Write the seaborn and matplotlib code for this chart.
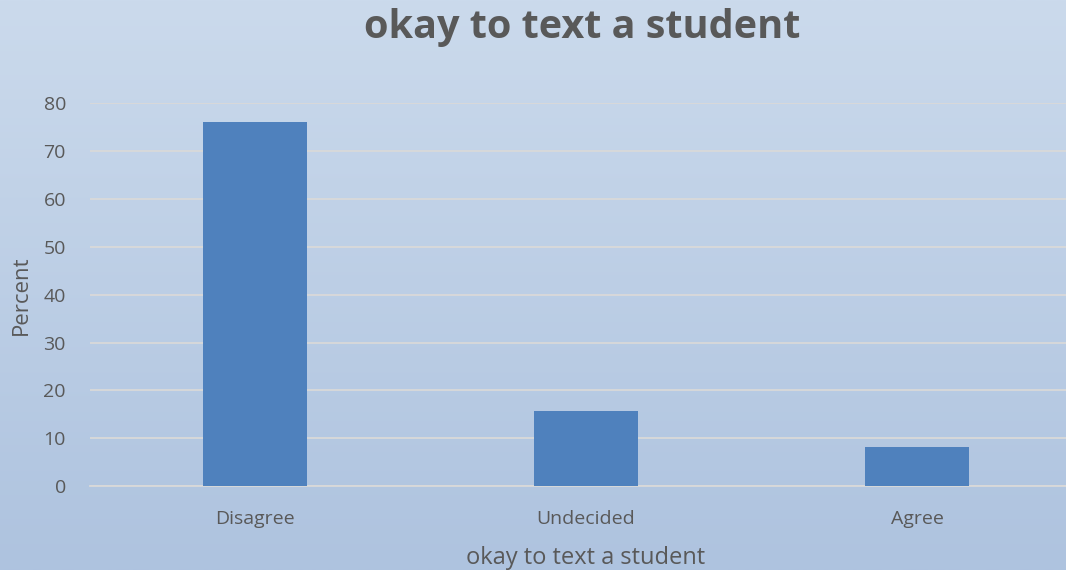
import numpy as np
import pandas as pd
import matplotlib
matplotlib.use("Agg")
import matplotlib.pyplot as plt
import seaborn as sns

categories = ["Disagree", "Undecided", "Agree"]
percent = [76.1, 15.7, 8.1]
y_ticks = [0, 10, 20, 30, 40, 50, 60, 70, 80]
title = "okay to text a student"
x_label = "okay to text a student"
y_label = "Percent"

sns.set_theme(style="white")
plt.rcParams["font.family"] = ["Open Sans", "DejaVu Sans"]

text_color = "#595959"
bar_color = "#4f81bd"
grid_color = "#d9d9d9"

fig = plt.figure(figsize=(10.66, 5.70), dpi=100)

# vertical gradient background over the whole figure
bg = fig.add_axes([0, 0, 1, 1], zorder=0)
top = np.array([0xcb, 0xda, 0xec]) / 255
bottom = np.array([0xae, 0xc3, 0xdf]) / 255
t = np.linspace(0, 1, 256)[:, None]
grad = top[None, :] * (1 - t) + bottom[None, :] * t
bg.imshow(grad[:, None, :], aspect="auto", extent=[0, 1, 0, 1])
bg.set_axis_off()

ax = fig.add_axes([0.084, 0.147, 0.916, 0.672], zorder=1)
ax.patch.set_alpha(0)

df = pd.DataFrame({"category": categories, "percent": percent})
sns.barplot(data=df, x="category", y="percent", color=bar_color,
            saturation=1, width=0.315, linewidth=0, ax=ax, zorder=3)

ax.set_xlim(-0.5, 2.45)
ax.set_ylim(0, 80)
ax.set_yticks(y_ticks)
ax.yaxis.grid(True, color=grid_color, linewidth=1.3, zorder=0)
ax.set_axisbelow(True)
for s in ["top", "right", "left"]:
    ax.spines[s].set_visible(False)
ax.spines["bottom"].set_color(grid_color)
ax.spines["bottom"].set_linewidth(1.3)
ax.tick_params(axis="both", length=0, labelsize=14, colors=text_color)
ax.tick_params(axis="y", pad=17)
ax.tick_params(axis="x", pad=17)

ax.set_xlabel(x_label, fontsize=17, color=text_color, labelpad=13)
ax.xaxis.label.set_x(0.508)
ax.set_ylabel(y_label, fontsize=16, color=text_color, labelpad=8)

fig.text(0.546, 0.952, title, ha="center", va="center", fontsize=28.5,
         fontweight="bold", color=text_color)

fig.savefig("out.png", dpi=100)
